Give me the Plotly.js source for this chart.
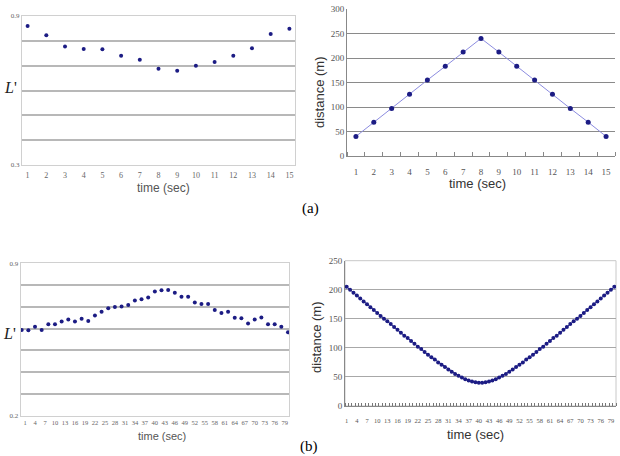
<!DOCTYPE html>
<html><head><meta charset="utf-8">
<script src="https://cdn.plot.ly/plotly-3.0.1.min.js"></script>
<style>html,body{margin:0;padding:0;background:#fff}#chart{width:620px;height:456px}</style>
</head><body><div id="chart"></div>
<script>
// (a) 15 s run
const timeA = [1,2,3,4,5,6,7,8,9,10,11,12,13,14,15];
const ratioA = [0.860,0.822,0.777,0.767,0.766,0.740,0.724,0.688,0.680,0.700,0.715,0.740,0.770,0.828,0.849];
const distA = [40,69,97,126,155,183,212,240,212,183,155,126,97,69,40];
// (b) 80 s run
const timeBRatio = [0,2,4,6,8,10,12,14,16,18,20,22,24,26,28,30,32,34,36,38,40,42,44,46,48,50,52,54,56,58,60,62,64,66,68,70,72,74,76,78,80];
const ratioB = [0.594,0.592,0.609,0.594,0.620,0.620,0.633,0.642,0.633,0.645,0.635,0.660,0.678,0.693,0.699,0.702,0.708,0.729,0.735,0.743,0.771,0.776,0.777,0.765,0.746,0.746,0.720,0.713,0.713,0.686,0.672,0.678,0.650,0.648,0.624,0.642,0.651,0.620,0.620,0.609,0.583];
const timeBDist = Array.from({length:80},(_,i)=>i+1);
const distB = [205,200,195,190,185,180,175,170,165,160,155,150,146,141,136,131,126,121,117,112,107,102,98,93,88,84,80,75,71,67,63,59,55,52,49,46,44,42,41,40,
               40,41,42,44,46,49,52,55,59,63,67,71,75,80,84,88,93,98,102,107,112,117,121,126,131,136,141,146,150,155,160,165,170,175,180,185,190,195,200,205];
const tickLabelsB = [1,4,7,10,13,16,19,22,25,28,31,34,37,40,43,46,49,52,55,58,61,64,67,70,73,76,79];
const ratioTicksA = [0.3,0.4,0.5,0.6,0.7,0.8,0.9];
const ratioTextA = ['0.3','','','','','','0.9'];
const ratioTicksB = [0.2,0.3,0.4,0.5,0.6,0.7,0.8,0.9];
const ratioTextB = ['0.2','','','','','','','0.9'];
const distTicksA = [0,50,100,150,200,250,300];
const distTicksB = [0,50,100,150,200,250];

const navy = '#1c1c84';
const serif = 'Liberation Serif, serif';
const sans = 'Liberation Sans, Arial, sans-serif';

const traces = [
  {x: timeA, y: ratioA, xaxis:'x', yaxis:'y', mode:'markers', type:'scatter',
   marker:{color:navy, size:4}},
  {x: timeA, y: distA, xaxis:'x2', yaxis:'y2', mode:'lines+markers', type:'scatter',
   line:{color:'#8c8ce0', width:1}, marker:{color:navy, size:5}},
  {x: timeBRatio, y: ratioB, xaxis:'x3', yaxis:'y3', mode:'markers', type:'scatter',
   marker:{color:navy, size:4}},
  {x: timeBDist, y: distB, xaxis:'x4', yaxis:'y4', mode:'lines+markers', type:'scatter',
   line:{color:navy, width:1}, marker:{color:navy, size:4}}
];

const W = 620, H = 456;
const dx = (a,b)=>[a/W, b/W];
const dy = (top,bot)=>[1-bot/H, 1-top/H];

const frameAxis = {showline:true, mirror:true, linecolor:'#d0d0d0', linewidth:1, zeroline:false, automargin:false};

function label(text, px, py, font, angle){
  return {text:text, x:px/W, y:1-py/H, xref:'paper', yref:'paper', xanchor:'center', yanchor:'middle',
          showarrow:false, textangle:angle||0, font:font};
}

const layout = {
  width: W, height: H,
  margin:{l:0,r:0,t:0,b:0},
  paper_bgcolor:'#fff', plot_bgcolor:'#fff',
  showlegend:false,
  xaxis: Object.assign({}, frameAxis, {domain: dx(22,295), range:[0.7,15.3], tickmode:'array', tickvals: timeA,
    showgrid:false, ticks:'', tickangle:0, ticklabelstandoff:2, tickfont:{family:serif, size:8, color:'#666'}, anchor:'y'}),
  yaxis: Object.assign({}, frameAxis, {domain: dy(16,165), range:[0.3,0.9], tickmode:'array', tickvals: ratioTicksA, ticktext: ratioTextA,
    showgrid:true, gridcolor:'#b8b8b8', gridwidth:2, ticks:'', tickfont:{family:serif, size:7, color:'#666'}, anchor:'x'}),
  xaxis2: {domain: dx(347,615), range:[0.5,15.5], tickmode:'array', tickvals: timeA, showgrid:false, zeroline:false,
    showline:true, linecolor:'#888', ticks:'', tickangle:0, ticklabelstandoff:7,
    minor:{tickmode:'linear', tick0:0.5, dtick:1, ticks:'inside', ticklen:4, tickcolor:'#888', showgrid:false},
    tickfont:{family:serif, size:9, color:'#555'}, anchor:'y2', automargin:false},
  yaxis2: {domain: dy(9,156), range:[0,300], tickmode:'array', tickvals: distTicksA, showgrid:true, gridcolor:'#8a8a8a', gridwidth:1,
    zeroline:false, showline:true, linecolor:'#888', ticks:'', tickfont:{family:serif, size:9, color:'#555'}, anchor:'x2', automargin:false},
  xaxis3: Object.assign({}, frameAxis, {domain: dx(20.7,289), range:[-0.3,80.3], tickmode:'array', tickvals: tickLabelsB,
    showgrid:false, ticks:'', tickangle:0, tickfont:{family:serif, size:6.5, color:'#666'}, anchor:'y3'}),
  yaxis3: Object.assign({}, frameAxis, {domain: dy(263.3,415.7), range:[0.2,0.9], tickmode:'array', tickvals: ratioTicksB, ticktext: ratioTextB,
    showgrid:true, gridcolor:'#b8b8b8', gridwidth:2, ticks:'', tickfont:{family:serif, size:7, color:'#666'}, anchor:'x3'}),
  xaxis4: {domain: dx(345,616), range:[0.5,80.5], tickmode:'array', tickvals: tickLabelsB, showgrid:false, zeroline:false,
    showline:true, mirror:false, linecolor:'#888', ticks:'', tickangle:0, ticklabelstandoff:8,
    minor:{tickmode:'linear', tick0:0.5, dtick:1, ticks:'inside', ticklen:3, tickcolor:'#777', showgrid:false},
    tickfont:{family:serif, size:6.5, color:'#555'}, anchor:'y4', automargin:false},
  yaxis4: {domain: dy(260.7,406), range:[0,250], tickmode:'array', tickvals: distTicksB, showgrid:true, gridcolor:'#a8a8a8', gridwidth:1,
    zeroline:false, showline:true, linecolor:'#888', ticks:'', tickfont:{family:serif, size:9, color:'#555'}, anchor:'x4', automargin:false},
  shapes: [
    {type:'rect', xref:'x4 domain', yref:'y4 domain', x0:0, x1:1, y0:0, y1:1, line:{color:'#c8c8c8', width:1}, layer:'below'}
  ],
  annotations: [
    label('time (sec)', 163, 188, {family:sans, size:12, color:'#555'}),
    label('time (sec)', 477, 184, {family:sans, size:13, color:'#333'}),
    label('time (sec)', 162, 436, {family:sans, size:11, color:'#555'}),
    label('time (sec)', 475, 434, {family:sans, size:13, color:'#333'}),
    label('distance (m)', 320, 92, {family:sans, size:13, color:'#333'}, -90),
    label('distance (m)', 316, 337, {family:sans, size:13, color:'#333'}, -90),
    label("<i>L</i>'", 10, 88, {family:serif, size:16, color:'#222'}),
    label("<i>L</i>'", 9, 333, {family:serif, size:16, color:'#222'}),
    label('(a)', 310, 208, {family:serif, size:15, color:'#000'}),
    label('(b)', 309, 446, {family:serif, size:15, color:'#000'})
  ]
};

Plotly.newPlot('chart', traces, layout, {staticPlot:true, displayModeBar:false});
</script>
</body></html>
